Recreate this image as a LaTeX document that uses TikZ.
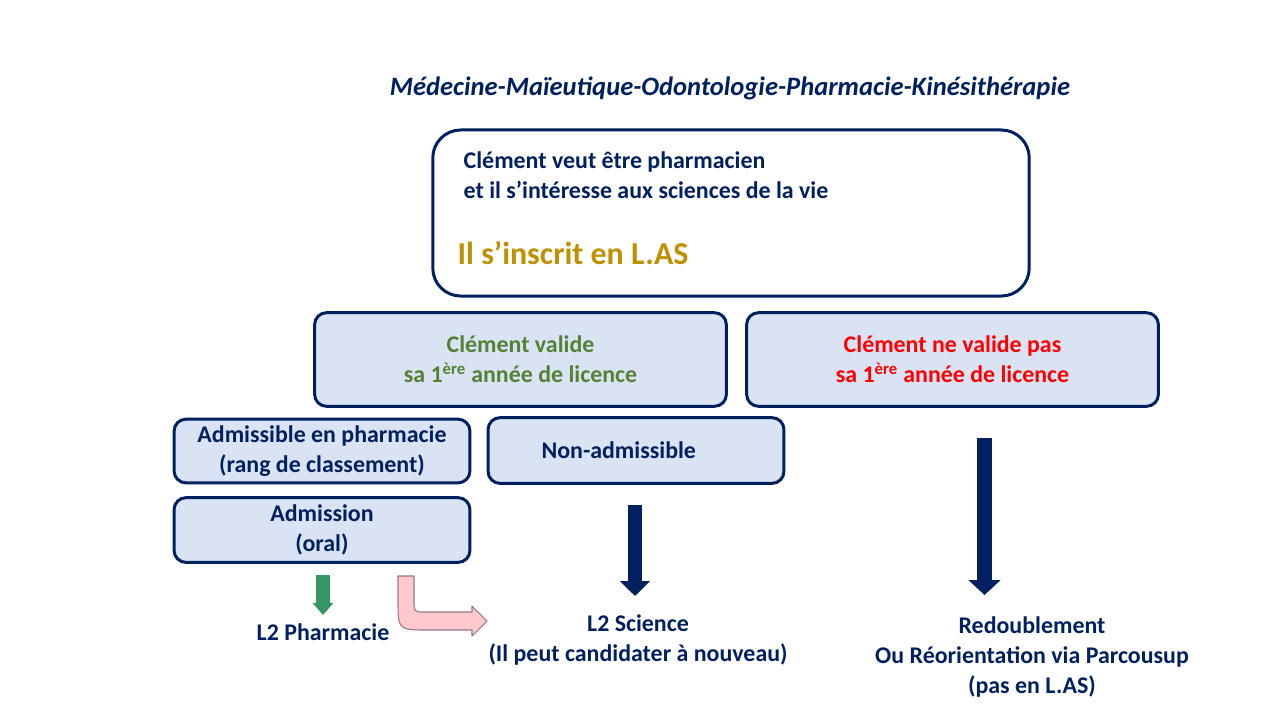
\documentclass[tikz,border=0pt]{standalone}
\usepackage{fontspec}
\setmainfont{Carlito}
\usepackage{tikz}
\usetikzlibrary{arrows.meta, positioning}
\definecolor{lasnavy}{RGB}{0,32,96}
\definecolor{lasfill}{RGB}{218,227,243}
\definecolor{lasgreen}{RGB}{84,130,53}
\definecolor{lasgold}{RGB}{191,144,0}
\definecolor{lasred}{RGB}{255,0,0}
\definecolor{arrowgreen}{RGB}{52,150,100}
\definecolor{arrowpink}{RGB}{255,200,205}
\definecolor{pinkline}{RGB}{150,120,140}

\tikzset{
    choicebox/.style={draw=lasnavy, line width=2.25pt, fill=lasfill, rounded corners=9pt,
        align=center, font=\bfseries\fontsize{18}{22.5}\selectfont, text=lasnavy},
    outcome/.style={align=center, font=\bfseries\fontsize{18}{22.5}\selectfont, text=lasnavy},
    navyarrow/.style={draw=lasnavy, line width=#1, -{Triangle[length=11.25pt, width=2.1*#1]}},
    greenarrow/.style={draw=arrowgreen, line width=10pt, -{Triangle[length=9pt, width=15pt]}},
}

\begin{document}
\begin{tikzpicture}[x=0.026458cm, y=-0.026458cm]
    \useasboundingbox[fill=white] (0,0) rectangle (1280,720);

    % title
    \node[font=\bfseries\itshape\fontsize{20}{24}\selectfont, text=lasnavy] (title) at (730,88)
        {Médecine-Maïeutique-Odontologie-Pharmacie-Kinésithérapie};

    % starting point
    \node[draw=lasnavy, line width=2.25pt, fill=white, rounded corners=21pt,
          minimum width=449pt, minimum height=125pt] (start) at (731,213) {};
    \node[anchor=west, align=left, font=\bfseries\fontsize{18}{22.5}\selectfont, text=lasnavy] (wish) at (459,175)
        {Clément veut être pharmacien\\et il s’intéresse aux sciences de la vie};
    \node[anchor=west, font=\bfseries\fontsize{24}{28}\selectfont, text=lasgold] (inscrit) at (453,253)
        {Il s’inscrit en L.AS};

    % first year
    \node[choicebox, text=lasgreen, minimum width=310pt, minimum height=70.5pt] (valide) at (520.5,359.5)
        {Clément valide\\sa 1\textsuperscript{ère} année de licence};
    \node[choicebox, text=lasred, minimum width=310pt, minimum height=70.5pt] (novalide) at (952.5,359.5)
        {Clément ne valide pas\\sa 1\textsuperscript{ère} année de licence};

    \node[choicebox, minimum width=222.75pt, minimum height=48pt] (admissible) at (322,451)
        {Admissible en pharmacie\\(rang de classement)};
    \node[choicebox, minimum width=222.75pt, minimum height=49.5pt] (nonadm) at (636,450.5)
        {\hspace*{-26pt}Non-admissible};
    \node[choicebox, minimum width=222.75pt, minimum height=48.75pt] (admission) at (322,530)
        {Admission\\(oral)};

    % outcomes
    \node[outcome] (l2pharma) at (323,632) {L2 Pharmacie};
    \node[outcome] (l2sci) at (638,640) {L2 Science\\(Il peut candidater à nouveau)};
    \node[outcome] (redouble) at (1032,657) {Redoublement\\Ou Réorientation via Parcousup\\(pas en L.AS)};

    % arrows
    \coordinate (g1) at (323,575);
    \coordinate (g2) at (323,615);
    \draw[greenarrow] (g1) -- (g2);

    \coordinate (m1) at (635,505);
    \coordinate (m2) at (635,596);
    \draw[navyarrow=10.5pt] (m1) -- (m2);

    \coordinate (r1) at (984.5,438);
    \coordinate (r2) at (984.5,595);
    \draw[navyarrow=11.25pt] (r1) -- (r2);

    \draw[pinkline, fill=arrowpink, line width=0.8pt, line join=round]
        (398,576) -- (414,576) -- (414,600) .. controls (414,612) and (414,612) .. (426,612)
        -- (472,612) -- (472,606) -- (487,621) -- (472,636) -- (472,630) -- (428,630)
        .. controls (398,630) and (398,630) .. (398,600) -- cycle;
\end{tikzpicture}
\end{document}
